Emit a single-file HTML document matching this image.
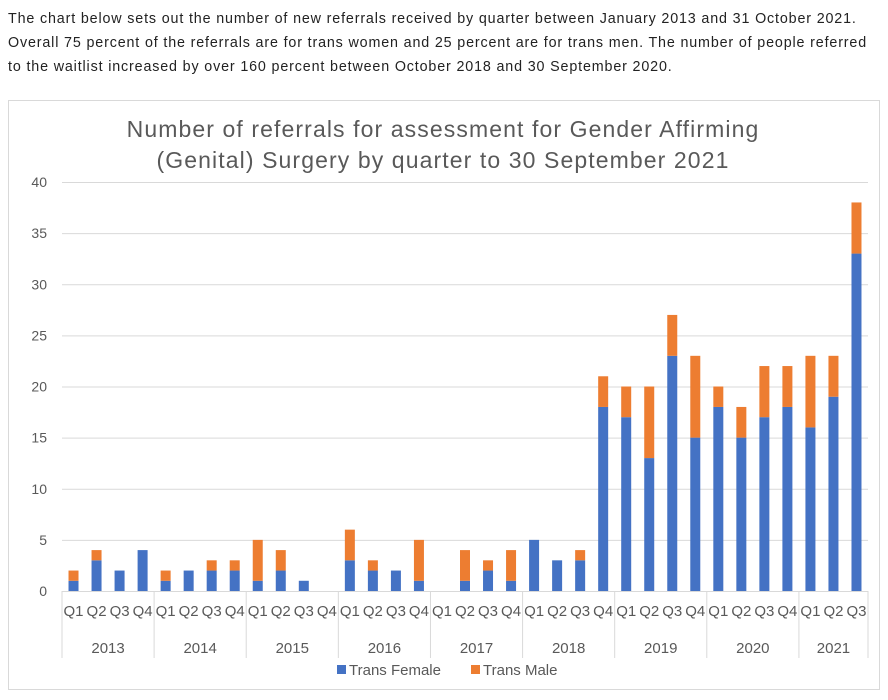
<!DOCTYPE html>
<html><head><meta charset="utf-8"><style>
body{margin:0;background:#fff;width:888px;height:700px;overflow:hidden;font-family:"Liberation Sans",Arial,sans-serif}
#intro{position:absolute;left:8px;top:7px;font-size:14.3px;letter-spacing:0.85px;line-height:24px;color:#222;width:872px}
</style></head><body>
<div id="intro">The chart below sets out the number of new referrals received by quarter between January 2013 and 31 October 2021.<br>Overall 75 percent of the referrals are for trans women and 25 percent are for trans men. The number of people referred<br>to the waitlist increased by over 160 percent between October 2018 and 30 September 2020.</div>
<svg id="chart" width="888" height="700" style="position:absolute;left:0;top:0" font-family="Liberation Sans, Arial, sans-serif"></svg>
<script>
const years=["2013","2014","2015","2016","2017","2018","2019","2020","2021"];
const quarters=["Q1","Q2","Q3","Q4"];
const transFemale=[1,3,2,4, 1,2,2,2, 1,2,1,0, 3,2,2,1, 0,1,2,1, 5,3,3,18, 17,13,23,15, 18,15,17,18, 16,19,33];
const transMale=[1,1,0,0, 1,0,1,1, 4,2,0,0, 3,1,0,4, 0,3,1,3, 0,0,1,3, 3,7,4,8, 2,3,5,4, 7,4,5];
const yTicks=[0,5,10,15,20,25,30,35,40];
const NS="http://www.w3.org/2000/svg";
const svg=document.getElementById('chart');
function mk(t,a,p){const e=document.createElementNS(NS,t);for(const k in a)e.setAttribute(k,a[k]);(p||svg).appendChild(e);return e;}
const X0=62,X1=868,Y0=591,Y1=182,N=transFemale.length,slot=(X1-X0)/N;
const y=v=>Y0-(v/40)*(Y0-Y1);
const xc=i=>X0+slot*(i+0.5);
let r=mk('rect',{x:8.5,y:100.5,width:871,height:589,fill:'#fff',stroke:'#d9d9d9'});

let t=mk('text',{x:443,y:137,'text-anchor':'middle','font-size':23,'letter-spacing':1.1,fill:'#595959'});t.textContent='Number of referrals for assessment for Gender Affirming';

t=mk('text',{x:443,y:168,'text-anchor':'middle','font-size':23,'letter-spacing':1.1,fill:'#595959'});t.textContent='(Genital) Surgery by quarter to 30 September 2021';

yTicks.forEach(v=>{
 const g=mk('line',{x1:X0,x2:X1,y1:y(v)+0.5,y2:y(v)+0.5,stroke:'#d9d9d9'});
 
 const l=mk('text',{x:47,y:y(v)+5,'text-anchor':'end','font-size':14,fill:'#595959'});l.textContent=v;
 
});
transFemale.forEach((f,i)=>{
 const m=transMale[i],bw=10,x=xc(i)-bw/2;
 const b=mk('rect',{x:x,y:y(f),width:bw,height:Y0-y(f),fill:'#4472c4'});
 
 const c=mk('rect',{x:x,y:y(f+m),width:bw,height:y(f)-y(f+m),fill:'#ed7d31'});
 
 const q=mk('text',{x:xc(i),y:616,'text-anchor':'middle','font-size':15,fill:'#595959'});q.textContent=quarters[i%4];
 
});
for(let k=0;k<=years.length;k++){
 const i=Math.min(k*4,N);const xx=X0+slot*i;
 const s=mk('line',{x1:xx,x2:xx,y1:Y0,y2:658,stroke:'#d9d9d9'});
 
 if(k<years.length){const e=Math.min(k*4+4,N);const yl=mk('text',{x:X0+slot*(k*4+e)/2,y:653,'text-anchor':'middle','font-size':15,fill:'#595959'});yl.textContent=years[k];
 }
}
let lg=mk('rect',{x:337,y:665,width:9,height:9,fill:'#4472c4'});
t=mk('text',{x:349,y:675,'font-size':15,fill:'#595959'});t.textContent='Trans Female';
lg=mk('rect',{x:471,y:665,width:9,height:9,fill:'#ed7d31'});
t=mk('text',{x:483,y:675,'font-size':15,fill:'#595959'});t.textContent='Trans Male';
</script>
</body></html>
